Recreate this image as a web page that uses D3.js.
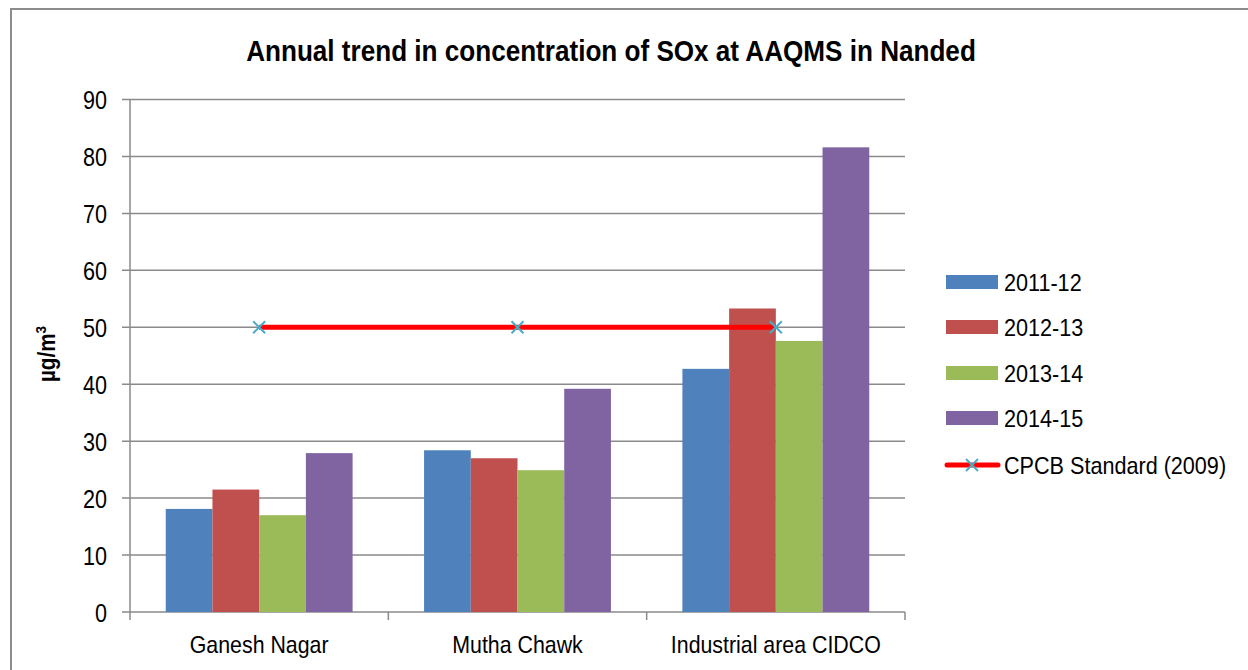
<!DOCTYPE html>
<html>
<head>
<meta charset="utf-8">
<script src="https://cdn.jsdelivr.net/npm/d3@7"></script>
<style>
  body { margin: 0; background: #fff; }
  text { font-family: "Liberation Sans", Arial, sans-serif; fill: #000; }
</style>
</head>
<body>
<main></main>
<script>
// Datos del gráfico
const estaciones = ['Ganesh Nagar', 'Mutha Chawk', 'Industrial area CIDCO'];
const anios = ['2011-12', '2012-13', '2013-14', '2014-15'];
const v2011 = [18.1, 28.4, 42.7];
const v2012 = [21.5, 27.0, 53.3];
const v2013 = [17.0, 24.9, 47.6];
const v2014 = [27.9, 39.2, 81.6];
const estandar = [50, 50, 50];
const nombreEstandar = 'CPCB Standard (2009)';
const ticksY = [0, 10, 20, 30, 40, 50, 60, 70, 80, 90];

const series = [v2011, v2012, v2013, v2014];
const colores = ['#4f81bd', '#c0504d', '#9bbb59', '#8064a2'];

const w = 1248;
const h = 670;

var svg = d3.select('main')
    .append('svg')
    .attr('width', w)
    .attr('height', h);

// Estrecha el texto horizontalmente alrededor de un punto
function estrecha(cx, s) {
    return `translate(${cx},0) scale(${s},1) translate(${-cx},0)`;
}

// Marco exterior
svg.append('rect')
    .attr('x', 11).attr('y', 9)
    .attr('width', 1260).attr('height', 700)
    .attr('fill', 'none')
    .attr('stroke', '#8c8c8c')
    .attr('stroke-width', 2);

const izq = 130, der = 905, arriba = 99.5, abajo = 612;

const x = d3.scaleBand().domain(estaciones).range([izq, der]).paddingInner(0).paddingOuter(0);
const xs = d3.scaleBand().domain(anios).range([0, x.bandwidth()]).paddingOuter(0.765).paddingInner(0);
const y = d3.scaleLinear().domain([0, 90]).range([abajo, arriba]);

// Rejilla
svg.append('g')
    .selectAll('line')
    .data(ticksY)
    .enter()
    .append('line')
    .attr('x1', izq - 8)
    .attr('x2', der)
    .attr('y1', (d) => y(d))
    .attr('y2', (d) => y(d))
    .attr('stroke', '#8a8a8a')
    .attr('stroke-width', 1.5);

// Eje Y
svg.append('line')
    .attr('x1', izq).attr('x2', izq)
    .attr('y1', arriba).attr('y2', abajo)
    .attr('stroke', '#8a8a8a').attr('stroke-width', 1.5);

svg.append('g')
    .selectAll('text')
    .data(ticksY)
    .enter()
    .append('text')
    .attr('x', 107)
    .attr('y', (d) => y(d) + 10)
    .attr('text-anchor', 'end')
    .attr('font-size', '26px')
    .attr('transform', estrecha(107, 0.83))
    .text((d) => d);

// Marcas del eje X
const bordes = [izq, izq + x.bandwidth(), izq + 2 * x.bandwidth(), der];
svg.append('g')
    .selectAll('line')
    .data(bordes)
    .enter()
    .append('line')
    .attr('x1', (d) => d).attr('x2', (d) => d)
    .attr('y1', abajo).attr('y2', abajo + 8)
    .attr('stroke', '#8a8a8a').attr('stroke-width', 1.5);

// Barras
series.forEach((s, i) => {
    svg.append('g')
        .selectAll('rect')
        .data(s)
        .enter()
        .append('rect')
        .attr('x', (d, j) => x(estaciones[j]) + xs(anios[i]))
        .attr('y', (d) => y(d))
        .attr('width', xs.bandwidth())
        .attr('height', (d) => abajo - y(d))
        .attr('fill', colores[i]);
});

// Línea del estándar
const linea = d3.line()
    .x((d, j) => x(estaciones[j]) + x.bandwidth() / 2)
    .y((d) => y(d));

svg.append('path')
    .datum(estandar)
    .attr('d', linea)
    .attr('fill', 'none')
    .attr('stroke', '#ff0000')
    .attr('stroke-width', 5);

function cruz(g, cx, cy) {
    g.append('path')
        .attr('d', `M${cx - 6},${cy - 6}L${cx + 6},${cy + 6}M${cx - 6},${cy + 6}L${cx + 6},${cy - 6}`)
        .attr('stroke', '#4bacc6')
        .attr('stroke-width', 2);
}

estandar.forEach((d, j) => cruz(svg, x(estaciones[j]) + x.bandwidth() / 2, y(d)));

// Etiquetas del eje X
svg.append('g')
    .selectAll('text')
    .data(estaciones)
    .enter()
    .append('text')
    .attr('x', (d) => x(d) + x.bandwidth() / 2)
    .attr('y', 653)
    .attr('text-anchor', 'middle')
    .attr('font-size', '24px')
    .attr('transform', (d) => estrecha(x(d) + x.bandwidth() / 2, 0.89))
    .text((d) => d);

// Título
svg.append('text')
    .attr('x', 611)
    .attr('y', 61)
    .attr('text-anchor', 'middle')
    .attr('font-size', '30px')
    .attr('font-weight', 'bold')
    .attr('transform', estrecha(611, 0.87))
    .text('Annual trend in concentration of SOx at AAQMS in Nanded');

// Título eje Y
const ty = svg.append('text')
    .attr('transform', 'translate(55,354) rotate(-90) scale(0.9,1)')
    .attr('text-anchor', 'middle')
    .attr('font-size', '23px')
    .attr('font-weight', 'bold');
ty.append('tspan').text('µg/m');
ty.append('tspan').attr('dy', -9).attr('font-size', '15px').text('3');

// Leyenda
const leyY = [282, 327, 373, 418];
const leyenda = svg.append('g');
anios.forEach((a, i) => {
    leyenda.append('rect')
        .attr('x', 946).attr('y', leyY[i] - 7)
        .attr('width', 52).attr('height', 14)
        .attr('fill', colores[i]);
    leyenda.append('text')
        .attr('x', 1004).attr('y', leyY[i] + 9)
        .attr('font-size', '24px')
        .attr('transform', estrecha(1004, 0.9))
        .text(a);
});
leyenda.append('line')
    .attr('x1', 947).attr('x2', 998)
    .attr('y1', 465).attr('y2', 465)
    .attr('stroke', '#ff0000').attr('stroke-width', 5)
    .attr('stroke-linecap', 'round');
cruz(leyenda, 972, 465);
leyenda.append('text')
    .attr('x', 1004).attr('y', 474)
    .attr('font-size', '24px')
    .attr('transform', estrecha(1004, 0.9))
    .text(nombreEstandar);
</script>
</body>
</html>
